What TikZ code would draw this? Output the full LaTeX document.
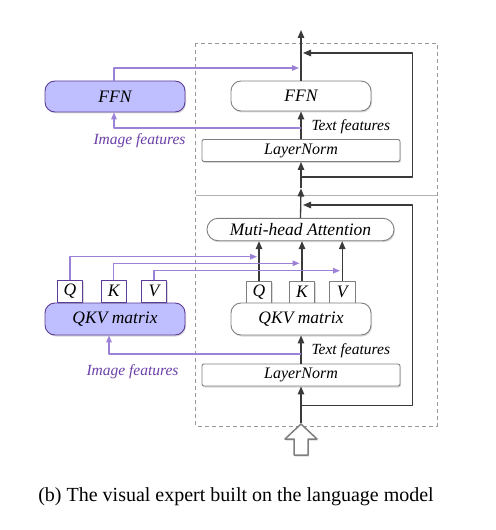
\documentclass[tikz,border=0pt]{standalone}
\usepackage{fontspec}
\setmainfont{Liberation Serif}
\usetikzlibrary{arrows.meta,shadows}
\definecolor{visfill}{HTML}{BFBFFF}
\definecolor{visedge}{HTML}{5E3C99}
\definecolor{visline}{HTML}{9C82D6}
\definecolor{vistext}{HTML}{6A3FA8}
\definecolor{boxedge}{HTML}{7F7F7F}
\definecolor{flowgray}{HTML}{3A3A3A}
\begin{document}
\begin{tikzpicture}[x=1bp, y=-1bp, line join=round, >={Triangle[length=8bp,width=6.5bp]},
	lang/.style={draw=boxedge, line width=0.9bp, fill=white, inner sep=0pt,
		drop shadow={shadow xshift=1bp, shadow yshift=-1.5bp, opacity=0.3},
		font=\fontsize{17.5bp}{20bp}\selectfont\itshape},
	vis/.style={lang, draw=visedge, fill=visfill},
	norm/.style={lang, rounded corners=2bp, minimum width=198bp, minimum height=22bp,
		font=\fontsize{16bp}{18bp}\selectfont\itshape},
	letter/.style={lang, minimum width=25.5bp, minimum height=22bp, drop shadow={opacity=0}},
	flow/.style={draw=flowgray, line width=1.3bp},
	imgflow/.style={draw=visline, line width=1.3bp, >={Triangle[length=7bp,width=5.5bp]}},
	feat/.style={font=\fontsize{15.5bp}{18bp}\selectfont\itshape}]
	\useasboundingbox (0,0) rectangle (496,530);
	% expert block
	\draw[boxedge!80, line width=0.9bp, dash pattern=on 4bp off 3bp] (195.7,43.3) rectangle (437,426);
	\draw[boxedge!60, line width=0.9bp] (195.7,195.5) -- (437,195.5);
	% language model side
	\node[lang, rounded corners=10bp, minimum width=140bp, minimum height=30bp] (rffn) at (301,96) {FFN};
	\node[norm] (ln1) at (301,150.5) {LayerNorm};
	\node[lang, rounded corners=11bp, minimum width=187bp, minimum height=22.4bp] (mha) at (300.5,229.5) {Muti-head Attention};
	\node[letter] (rq) at (259,292) {Q};
	\node[letter] (rk) at (302,292) {K};
	\node[letter] (rv) at (342.2,292) {V};
	\node[lang, rounded corners=10bp, minimum width=140bp, minimum height=32bp] (rqkv) at (301,319) {QKV matrix};
	\node[norm] (ln2) at (301,375) {LayerNorm};
	% visual expert side
	\node[vis, rounded corners=10bp, minimum width=140bp, minimum height=31bp] (lffn) at (115,96.5) {FFN};
	\node[vis, rounded corners=10bp, minimum width=140bp, minimum height=32bp] (lqkv) at (115,319) {QKV matrix};
	\node[letter, draw=visedge] (lq) at (70,291) {Q};
	\node[letter, draw=visedge] (lk) at (113.7,291) {K};
	\node[letter, draw=visedge] (lv) at (154,291) {V};
	% labels
	\node[feat, anchor=west] (tf1) at (308,127) {Text features};
	\node[feat, anchor=west] (tf2) at (308,351) {Text features};
	\node[feat, text=vistext, anchor=east] (if1) at (189,141) {Image features};
	\node[feat, text=vistext, anchor=east] (if2) at (182,372) {Image features};
	% points on the main stream
	\coordinate (in) at (301,423);
	\coordinate (res2) at (301,405.7);
	\coordinate (r2a) at (412.5,405.7);
	\coordinate (r2b) at (303,205);
	\coordinate (o2) at (301,188.5);
	\coordinate (res1) at (301,177);
	\coordinate (r1a) at (412.5,177);
	\coordinate (r1b) at (303,53);
	\coordinate (out) at (301,30);
	\coordinate (t2) at (301,354);
	\coordinate (t1) at (301,128);
	\coordinate (jq) at (257,256.7);
	\coordinate (jk) at (299.5,263.3);
	\coordinate (jv) at (340,270.7);
	\coordinate (jf) at (299,68);
	% main stream
	\draw[flow,->] (in) -- (ln2.south);
	\draw[flow,->] (res2) -- (r2a) |- (r2b);
	\draw[flow,->] (ln2.north) -- (rqkv.south);
	\draw[flow,->] (rq.north) -- (rq.north |- mha.south);
	\draw[flow,->] (rk.north) -- (rk.north |- mha.south);
	\draw[flow,->] (rv.north) -- (rv.north |- mha.south);
	\draw[flow,->] (mha.north) -- (o2);
	\draw[flow,->] (o2) -- (ln1.south);
	\draw[flow,->] (res1) -- (r1a) |- (r1b);
	\draw[flow,->] (ln1.north) -- (rffn.south);
	\draw[flow,->] (rffn.north) -- (out);
	% visual expert stream
	\draw[imgflow,->] (t2) -| ([xshift=-6bp]lqkv.south);
	\draw[imgflow,->] (lq.north) |- (jq);
	\draw[imgflow,->] (lk.north) |- (jk);
	\draw[imgflow,->] (lv.north) |- (jv);
	\draw[imgflow,->] (t1) -| ([xshift=-1bp]lffn.south);
	\draw[imgflow,->] ([xshift=-1bp]lffn.north) |- (jf);
	% input arrow
	\draw[draw=boxedge, line width=1.5bp, fill=white, drop shadow={shadow xshift=1bp, shadow yshift=-1.5bp, opacity=0.3}]
		(301,424) -- (317,439) -- (308,439) -- (308,455) -- (294,455) -- (294,439) -- (285,439) -- cycle;
	% caption
	\node[font=\fontsize{20bp}{24bp}\selectfont] (caption) at (236,497) {(b) The visual expert built on the language model};
\end{tikzpicture}
\end{document}
